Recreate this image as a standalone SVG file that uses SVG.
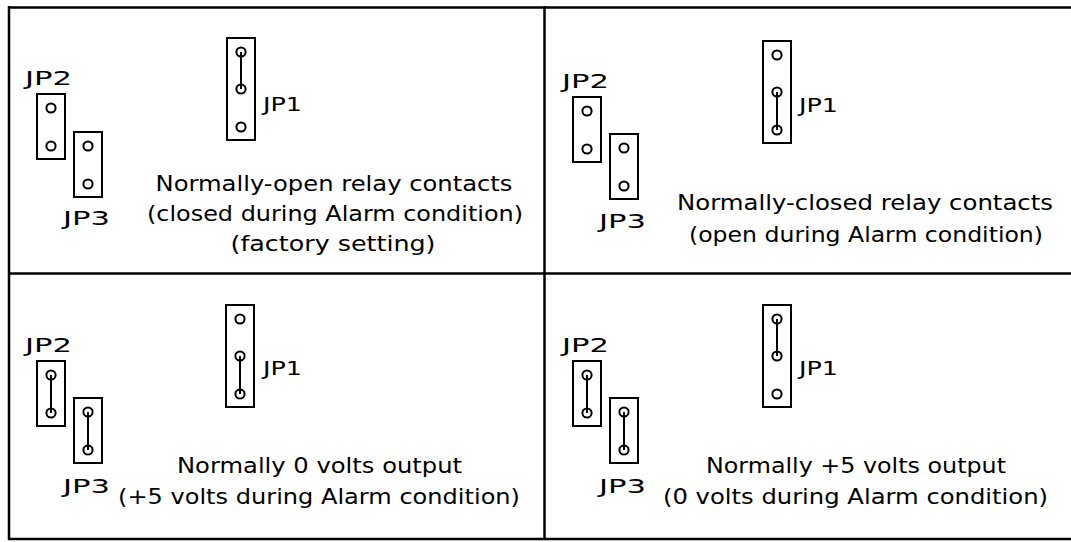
<svg xmlns="http://www.w3.org/2000/svg" width="1071" height="542" viewBox="0 0 1071 542">
<style>
.frame{stroke:#000;stroke-width:2.5;fill:none}
.box{fill:none;stroke:#000;stroke-width:2}
.pin{fill:none;stroke:#000;stroke-width:2}
.shunt{stroke:#000;stroke-width:2}
text{font-family:"DejaVu Sans","Liberation Sans",sans-serif;font-size:21px;fill:#000}
.c{text-anchor:middle}
.lbl{font-size:20px}
</style>
<defs>
<g id="j3"><rect class="box" x="0" y="0" width="28" height="102"/><circle class="pin" cx="14" cy="14" r="4.6"/><circle class="pin" cx="14" cy="51" r="4.6"/><circle class="pin" cx="14" cy="89" r="4.6"/></g>
<g id="j2"><rect class="box" x="0" y="0" width="28" height="65"/><circle class="pin" cx="14" cy="14" r="4.6"/><circle class="pin" cx="14" cy="52" r="4.6"/></g>
</defs>
<rect width="1071" height="542" fill="#fff"/>
<g id="frame">
<line class="frame" x1="8" y1="7.5" x2="1071" y2="7.5"/>
<line class="frame" x1="9" y1="6" x2="9" y2="540"/>
<line class="frame" x1="8" y1="539" x2="1071" y2="539"/>
<line class="frame" x1="544.5" y1="6" x2="544.5" y2="540"/>
<line class="frame" x1="8" y1="273.5" x2="1071" y2="273.5"/>
</g>

<g id="panel-tl">
<g id="tl-jp1"><use href="#j3" x="227" y="38"/><line class="shunt" x1="241" y1="52" x2="241" y2="89"/><text class="lbl" x="263" y="111" textLength="39" lengthAdjust="spacingAndGlyphs">JP1</text></g>
<g id="tl-jp2"><use href="#j2" x="37" y="94"/><text class="lbl" x="25" y="85" textLength="47" lengthAdjust="spacingAndGlyphs">JP2</text></g>
<g id="tl-jp3"><use href="#j2" x="74" y="132"/><text class="lbl" x="63" y="225" textLength="47" lengthAdjust="spacingAndGlyphs">JP3</text></g>
<g id="tl-text">
<text class="c" x="334" y="191" textLength="357" lengthAdjust="spacingAndGlyphs">Normally-open relay contacts</text>
<text class="c" x="335" y="221" textLength="376" lengthAdjust="spacingAndGlyphs">(closed during Alarm condition)</text>
<text class="c" x="333" y="251" textLength="205" lengthAdjust="spacingAndGlyphs">(factory setting)</text>
</g>
</g>

<g id="panel-tr">
<g id="tr-jp1"><use href="#j3" x="763" y="41"/><line class="shunt" x1="777" y1="92" x2="777" y2="130"/><text class="lbl" x="799" y="112" textLength="39" lengthAdjust="spacingAndGlyphs">JP1</text></g>
<g id="tr-jp2"><use href="#j2" x="573" y="97"/><text class="lbl" x="562" y="88" textLength="47" lengthAdjust="spacingAndGlyphs">JP2</text></g>
<g id="tr-jp3"><use href="#j2" x="610" y="134"/><text class="lbl" x="599" y="228" textLength="47" lengthAdjust="spacingAndGlyphs">JP3</text></g>
<g id="tr-text">
<text class="c" x="865" y="210" textLength="376" lengthAdjust="spacingAndGlyphs">Normally-closed relay contacts</text>
<text class="c" x="866" y="242" textLength="354" lengthAdjust="spacingAndGlyphs">(open during Alarm condition)</text>
</g>
</g>

<g id="panel-bl">
<g id="bl-jp1"><use href="#j3" x="226" y="305"/><line class="shunt" x1="240" y1="356" x2="240" y2="394"/><text class="lbl" x="263" y="375" textLength="39" lengthAdjust="spacingAndGlyphs">JP1</text></g>
<g id="bl-jp2"><use href="#j2" x="37" y="361"/><line class="shunt" x1="51" y1="375" x2="51" y2="413"/><text class="lbl" x="25" y="352" textLength="47" lengthAdjust="spacingAndGlyphs">JP2</text></g>
<g id="bl-jp3"><use href="#j2" x="74" y="398"/><line class="shunt" x1="88" y1="412" x2="88" y2="450"/><text class="lbl" x="63" y="493" textLength="47" lengthAdjust="spacingAndGlyphs">JP3</text></g>
<g id="bl-text">
<text class="c" x="319.5" y="473" textLength="285" lengthAdjust="spacingAndGlyphs">Normally 0 volts output</text>
<text class="c" x="319" y="504" textLength="402" lengthAdjust="spacingAndGlyphs">(+5 volts during Alarm condition)</text>
</g>
</g>

<g id="panel-br">
<g id="br-jp1"><use href="#j3" x="763" y="305"/><line class="shunt" x1="777" y1="319" x2="777" y2="356"/><text class="lbl" x="799" y="375" textLength="39" lengthAdjust="spacingAndGlyphs">JP1</text></g>
<g id="br-jp2"><use href="#j2" x="573" y="361"/><line class="shunt" x1="587" y1="375" x2="587" y2="413"/><text class="lbl" x="562" y="352" textLength="47" lengthAdjust="spacingAndGlyphs">JP2</text></g>
<g id="br-jp3"><use href="#j2" x="610" y="398"/><line class="shunt" x1="624" y1="412" x2="624" y2="450"/><text class="lbl" x="599" y="493" textLength="47" lengthAdjust="spacingAndGlyphs">JP3</text></g>
<g id="br-text">
<text class="c" x="856" y="473" textLength="300" lengthAdjust="spacingAndGlyphs">Normally +5 volts output</text>
<text class="c" x="855.5" y="504" textLength="385" lengthAdjust="spacingAndGlyphs">(0 volts during Alarm condition)</text>
</g>
</g>
</svg>
